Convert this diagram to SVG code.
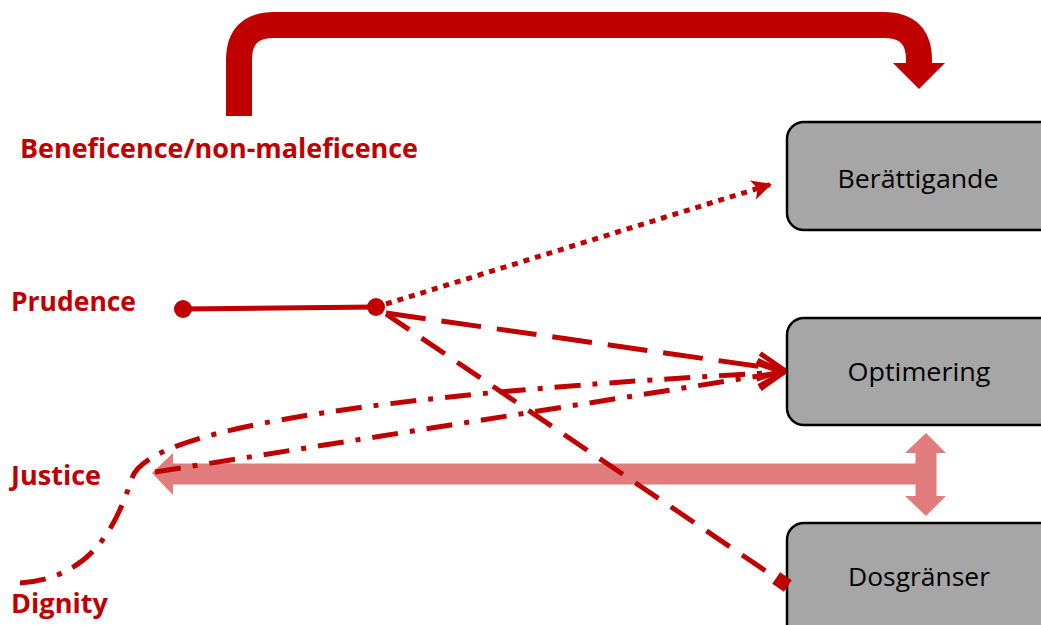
<svg xmlns="http://www.w3.org/2000/svg" width="1041" height="625" viewBox="0 0 1041 625">
<style>
.lbl{font-family:"Open Sans","Liberation Sans",sans-serif;font-weight:bold;font-size:26px;fill:#C00000}
.box{fill:#A6A6A6;stroke:#000;stroke-width:2.5}
.bt{font-family:"Open Sans","Liberation Sans",sans-serif;font-size:26px;fill:#000;text-anchor:middle}
.red{fill:none;stroke:#C00000;stroke-width:5}
</style>
<defs>
<marker id="open" markerUnits="userSpaceOnUse" viewBox="-30 -16 32 32" refX="0" refY="0" markerWidth="32" markerHeight="32" orient="auto">
<polyline points="-26,-13 0,0 -26,13" fill="none" stroke="#C00000" stroke-width="5"/>
</marker>
<marker id="tri" markerUnits="userSpaceOnUse" viewBox="-22 -12 24 24" refX="0" refY="0" markerWidth="24" markerHeight="24" orient="auto">
<polygon points="-20,-10 0,0 -20,10 -15,0" fill="#C00000"/>
</marker>
<marker id="sq" markerUnits="userSpaceOnUse" viewBox="-8 -8 16 16" refX="0" refY="0" markerWidth="16" markerHeight="16" orient="auto">
<rect x="-7" y="-7" width="14" height="14" fill="#C00000"/>
</marker>
</defs>
<g id="label-beneficence"><text class="lbl" x="20" y="158" textLength="398" lengthAdjust="spacingAndGlyphs">Beneficence/non-maleficence</text></g>
<g id="label-prudence"><text class="lbl" x="11" y="311" textLength="125" lengthAdjust="spacingAndGlyphs">Prudence</text></g>
<g id="label-justice"><text class="lbl" x="11" y="485" textLength="90" lengthAdjust="spacingAndGlyphs">Justice</text></g>
<g id="label-dignity"><text class="lbl" x="11" y="613" textLength="97" lengthAdjust="spacingAndGlyphs">Dignity</text></g>
<g id="node-berattigande"><rect class="box" x="787" y="122" width="270" height="108" rx="17"/><text class="bt" x="918" y="188" textLength="161" lengthAdjust="spacingAndGlyphs">Berättigande</text></g>
<g id="node-optimering"><rect class="box" x="787" y="318" width="270" height="107" rx="17"/><text class="bt" x="919" y="381" textLength="143" lengthAdjust="spacingAndGlyphs">Optimering</text></g>
<g id="node-dosgranser"><rect class="box" x="787" y="523" width="270" height="120" rx="17"/><text class="bt" x="919" y="586" textLength="142" lengthAdjust="spacingAndGlyphs">Dosgränser</text></g>
<g id="connectors">
<path d="M239,116 V60 Q239,25 274,25 H884 Q919,25 919,60 V64" fill="none" stroke="#C00000" stroke-width="26"/>
<polygon points="893,63 945,63 919,89" fill="#C00000"/>
<path d="M920,474 H173" fill="none" stroke="#E07C7C" stroke-width="21"/>
<polygon points="152,473 173,453 173,495" fill="#E07C7C"/>
<path d="M926,453 V496" fill="none" stroke="#E07C7C" stroke-width="21"/>
<polygon points="926,433 946,453 905,453" fill="#E07C7C"/>
<polygon points="926,516 946,496 905,496" fill="#E07C7C"/>
<line x1="183" y1="309" x2="376" y2="307" stroke="#C00000" stroke-width="5"/>
<circle cx="183" cy="309" r="9" fill="#C00000"/>
<circle cx="376" cy="307" r="9" fill="#C00000"/>
<line class="red" x1="386" y1="304" x2="772" y2="184" stroke-width="6" stroke-dasharray="6 6" marker-end="url(#tri)"/>
<line class="red" x1="386" y1="313" x2="784" y2="370" stroke-dasharray="40 16" marker-end="url(#open)"/>
<line class="red" x1="386" y1="314" x2="782" y2="582" stroke-dasharray="28 15" marker-end="url(#sq)"/>
<line class="red" x1="155" y1="472" x2="784" y2="372" stroke-dasharray="26 12 5 12" marker-end="url(#open)"/>
<path class="red" d="M20,583 C90,578 115,530 132,478 C145,438 300,398 784,372" stroke-dasharray="26 12 5 12" marker-end="url(#open)"/>
</g>
</svg>
